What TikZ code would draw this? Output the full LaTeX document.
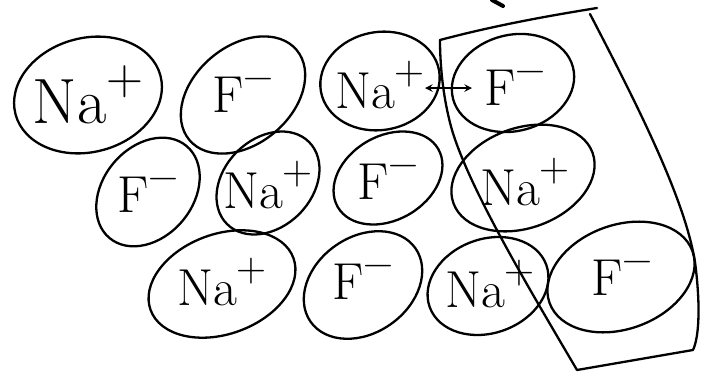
\documentclass[tikz,border=0pt]{standalone}
\usepackage{fontspec}
\newcommand\ionchg[1]{\raisebox{.45em}{\scalebox{.8}{#1}}}
\tikzset{
  ion/.style={inner sep=0pt, font=\fontsize{52}{52}\selectfont},
  bigion/.style={ion, font=\fontsize{64}{64}\selectfont},
  ring/.style={line width=2.3pt},
  pen/.style={line width=2.3pt, line cap=round, line join=round}
}
\begin{document}
\begin{tikzpicture}[x=1pt,y=-1pt]
\useasboundingbox (0,0) rectangle (716,383);
% row 1
\node[bigion] (a1) at (88,95) {Na\ionchg{+}};
\node[ion] (a2) at (243,95) {F\ionchg{−}};
\node[ion] (a3) at (380,85) {Na\ionchg{+}};
\node[ion] (a4) at (515,88) {F\ionchg{−}};
% row 2
\node[ion] (b1) at (148,195) {F\ionchg{−}};
\node[ion] (b2) at (268,185) {Na\ionchg{+}};
\node[ion] (b3) at (388,182) {F\ionchg{−}};
\node[ion] (b4) at (525,182) {Na\ionchg{+}};
% row 3
\node[ion] (c1) at (222,282) {Na\ionchg{+}};
\node[ion] (c2) at (363,282) {F\ionchg{−}};
\node[ion] (c3) at (490,284) {Na\ionchg{+}};
\node[ion] (c4) at (622,278) {F\ionchg{−}};
% rings
\draw[ring] (a1.center) ellipse [x radius=75, y radius=57, rotate=15];
\draw[ring] (a2.center) ellipse [x radius=70, y radius=49, rotate=40];
\draw[ring] (380,81) ellipse [x radius=60, y radius=49, rotate=10];
\draw[ring] (513,83) ellipse [x radius=62, y radius=48, rotate=15];
\draw[ring] (148,192) ellipse [x radius=60, y radius=45, rotate=50];
\draw[ring] (268,183) ellipse [x radius=58, y radius=44, rotate=45];
\draw[ring] (388,178) ellipse [x radius=58, y radius=42, rotate=30];
\draw[ring] (523,178) ellipse [x radius=74, y radius=50, rotate=20];
\draw[ring] (222,284) ellipse [x radius=76, y radius=50, rotate=20];
\draw[ring] (363,285) ellipse [x radius=64, y radius=48, rotate=35];
\draw[ring] (488,286) ellipse [x radius=62, y radius=47, rotate=20];
\draw[ring] (621,277) ellipse [x radius=76, y radius=52, rotate=20];
% double arrow between a3 and a4
\coordinate (arL) at (425,88);
\coordinate (arR) at (472,88);
\draw[pen, <->, >=stealth] (arL) -- (arR);
% enclosing outline
\coordinate (p1) at (440,40);
\coordinate (p2) at (597,8);
\draw[pen] (p1) .. controls (500,24) and (560,14) .. (p2);
\draw[pen] (590,14) .. controls (640,110) and (685,200) .. (695,262)
  .. controls (700,300) and (700,335) .. (693,350)
  -- (577,370)
  .. controls (530,290) and (470,190) .. (452,130)
  .. controls (442,95) and (440,60) .. (p1);
% top mark
\draw[line width=4pt, line cap=round] (492,0) -- (503,6);
\end{tikzpicture}
\end{document}
